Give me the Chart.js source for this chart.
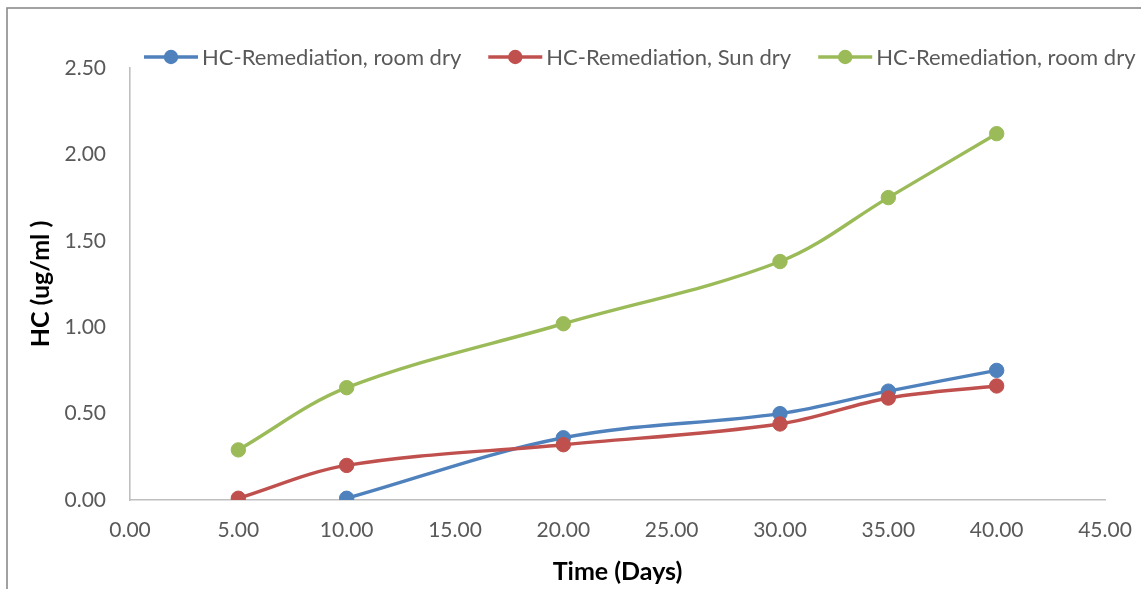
<!DOCTYPE html>
<html>
<head>
<meta charset="utf-8">
<script src="https://cdn.jsdelivr.net/npm/chart.js@4/dist/chart.umd.min.js"></script>
<style>
  html, body { margin: 0; padding: 0; background: #fff; }
  #wrap { width: 1141px; height: 589px; position: relative; }
</style>
</head>
<body>
<div id="wrap"><canvas id="c" width="1141" height="589"></canvas></div>
<script>
// Series labels
const seriesNames = ['HC-Remediation, room dry', 'HC-Remediation, Sun dry', 'HC-Remediation, room dry'];
const seriesColors = ['#4f81bd', '#c0504d', '#9bbb59'];

// Time (days) and hydrocarbon content (ug/ml) per series
const roomDryDays = [10, 20, 30, 35, 40];
const roomDryHC = [0.01, 0.36, 0.50, 0.63, 0.75];
const sunDryDays = [5, 10, 20, 30, 35, 40];
const sunDryHC = [0.01, 0.20, 0.32, 0.44, 0.59, 0.66];
const roomDry2Days = [5, 10, 20, 30, 35, 40];
const roomDry2HC = [0.29, 0.65, 1.02, 1.38, 1.75, 2.12];

// Axis ranges / tick steps
const xRange = [0, 45];
const xStep = 5;
const yRange = [0, 2.5];
const yStep = 0.5;
const xTitle = 'Time (Days)';
const yTitle = 'HC (ug/ml )';

const FONT = 'Lato, "Open Sans", sans-serif';
const TEXT_GREY = '#595959';

function toPoints(xs, ys) { return xs.map((x, i) => ({ x: x, y: ys[i] })); }

const seriesData = [toPoints(roomDryDays, roomDryHC), toPoints(sunDryDays, sunDryHC), toPoints(roomDry2Days, roomDry2HC)];

const datasets = seriesData.map((pts, i) => ({
  label: seriesNames[i],
  data: pts,
  borderColor: seriesColors[i],
  backgroundColor: seriesColors[i],
  pointBackgroundColor: seriesColors[i],
  pointBorderColor: seriesColors[i],
  pointRadius: 7.2,
  pointBorderWidth: 1,
  borderWidth: 3.4,
  tension: 0.35,
  fill: false,
  order: [2, 1, 0][i]
}));

// White page with the thin grey frame round the chart
const framePlugin = {
  id: 'frame',
  beforeDraw(chart) {
    const ctx = chart.ctx;
    ctx.save();
    ctx.fillStyle = '#ffffff';
    ctx.fillRect(0, 0, chart.width, chart.height);
    ctx.strokeStyle = '#8a8a8a';
    ctx.lineWidth = 1.6;
    ctx.strokeRect(7, 8, chart.width + 20, chart.height + 20);
    ctx.restore();
  }
};

// Legend row: line with marker, then the series name
const legendPlugin = {
  id: 'lineLegend',
  afterDraw(chart) {
    const ctx = chart.ctx;
    ctx.save();
    ctx.font = '22px ' + FONT;
    ctx.textBaseline = 'middle';
    ctx.textAlign = 'left';
    let x = 144;
    const y = 57;
    chart.data.datasets.forEach((ds) => {
      ctx.strokeStyle = ds.borderColor;
      ctx.lineWidth = 3.4;
      ctx.beginPath();
      ctx.moveTo(x, y);
      ctx.lineTo(x + 54, y);
      ctx.stroke();
      ctx.fillStyle = ds.borderColor;
      ctx.beginPath();
      ctx.arc(x + 27, y, 7.2, 0, Math.PI * 2);
      ctx.fill();
      ctx.fillStyle = TEXT_GREY;
      ctx.fillText(ds.label, x + 58, y + 1);
      x += 58 + ctx.measureText(ds.label).width + 27;
    });
    ctx.restore();
  }
};

new Chart(document.getElementById('c'), {
  type: 'line',
  data: { datasets: datasets },
  plugins: [framePlugin, legendPlugin],
  options: {
    responsive: false,
    animation: false,
    devicePixelRatio: 1,
    layout: { padding: { left: 0, top: 68, right: 36, bottom: 0 } },
    plugins: {
      legend: { display: false },
      tooltip: { enabled: false }
    },
    scales: {
      x: {
        type: 'linear',
        min: xRange[0],
        max: xRange[1],
        grid: { display: false, drawTicks: false },
        border: { display: true, color: '#bfbfbf', width: 1.6 },
        ticks: {
          stepSize: xStep,
          padding: 18,
          color: TEXT_GREY,
          font: { family: FONT, size: 21 },
          maxRotation: 0,
          autoSkip: false,
          callback: (v) => Number(v).toFixed(2)
        },
        title: {
          display: true,
          text: xTitle,
          color: '#000',
          font: { family: FONT, size: 25, weight: 'bold' },
          padding: { top: 0, bottom: 2 }
        },
        afterFit(scale) {
          scale.height = 89;
          scale.paddingLeft = 0;
          scale.paddingRight = 0;
        }
      },
      y: {
        type: 'linear',
        min: yRange[0],
        max: yRange[1],
        grid: { display: false, drawTicks: false },
        border: { display: true, color: '#bfbfbf', width: 1.6 },
        ticks: {
          stepSize: yStep,
          padding: 24,
          color: TEXT_GREY,
          font: { family: FONT, size: 21 },
          callback: (v) => Number(v).toFixed(2)
        },
        title: {
          display: true,
          text: yTitle,
          color: '#000',
          font: { family: FONT, size: 25, weight: 'bold' },
          padding: { top: 26, bottom: 0 }
        },
        afterFit(scale) {
          scale.width = 130;
          scale.paddingTop = 0;
          scale.paddingBottom = 0;
        }
      }
    }
  }
});
</script>
</body>
</html>
